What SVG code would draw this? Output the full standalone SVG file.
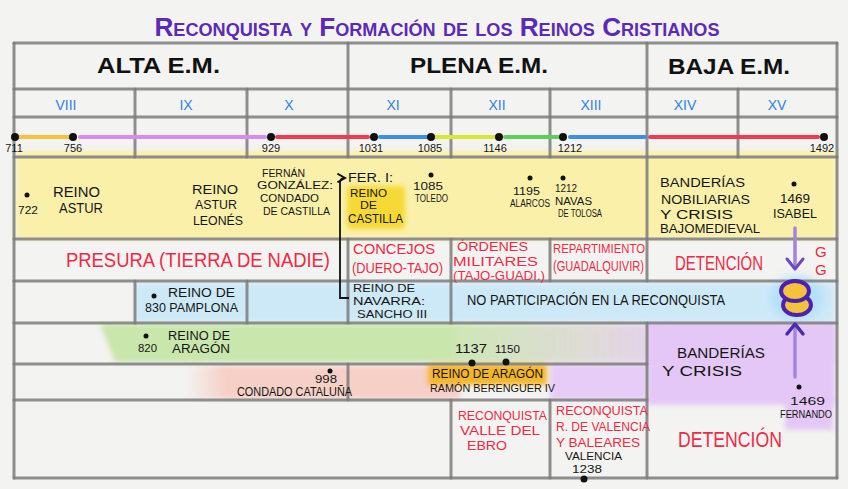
<svg xmlns="http://www.w3.org/2000/svg" width="848" height="489" viewBox="0 0 848 489">
<defs>
<filter id="soft" x="-10%" y="-40%" width="120%" height="180%"><feGaussianBlur stdDeviation="2.5"/></filter>
<filter id="soft2" x="-30%" y="-30%" width="160%" height="160%"><feGaussianBlur stdDeviation="5"/></filter>
<linearGradient id="gpur" x1="0" x2="1" y1="0" y2="0">
<stop offset="0" stop-color="#c9e6ad" stop-opacity="0.9"/>
<stop offset="0.35" stop-color="#d9d6d0" stop-opacity="0.8"/>
<stop offset="0.6" stop-color="#e6cbf6" stop-opacity="0.9"/>
<stop offset="1" stop-color="#e6cbf6" stop-opacity="0.9"/>
</linearGradient>
<linearGradient id="gpink" x1="0" x2="1" y1="0" y2="0">
<stop offset="0" stop-color="#f7c9bf" stop-opacity="0"/>
<stop offset="0.15" stop-color="#f7c9bf" stop-opacity="0.85"/>
<stop offset="1" stop-color="#f7c9bf" stop-opacity="0.85"/>
</linearGradient>
<marker id="ah" viewBox="0 0 10 10" refX="8" refY="5" markerWidth="6" markerHeight="6" orient="auto">
<path d="M1,1 L8,5 L1,9" fill="none" stroke="#111" stroke-width="1.8"/>
</marker>
</defs>
<style>
text { font-family: "Liberation Sans", Arial, sans-serif; }
.k { fill:#161616; }
.r { fill:#ee2b47; }
.b { fill:#2f82e3; }
.t { fill:#5b2bb8; font-weight:bold; font-variant:small-caps; }
.h { fill:#111; font-weight:bold; }
.grid line { stroke:#7d7d7d; stroke-width:3; stroke-linecap:round; opacity:0.85; }
.tl line { stroke-width:4; stroke-linecap:round; }
.dot { fill:#111; }
</style>
<rect width="848" height="489" fill="#f3f3f1"/>

<g id="bands">
<rect x="16" y="151" width="820" height="88" fill="#fbf0a3" opacity="0.9" filter="url(#soft)"/>
<rect x="135" y="283" width="700" height="39" fill="#cde9f8" filter="url(#soft)"/>
<ellipse cx="797" cy="298" rx="26" ry="22" fill="#b3e0f7" filter="url(#soft2)"/>
<polygon points="100,324 455,324 455,362 115,362" fill="#c9e6ad" filter="url(#soft)"/>
<rect x="450" y="324" width="385" height="39" fill="url(#gpur)" filter="url(#soft)"/>
<rect x="550" y="364" width="97" height="36" fill="#e6ccf6" filter="url(#soft)"/>
<rect x="647" y="323" width="188" height="82" fill="#e4c7f6" filter="url(#soft)"/>
<rect x="785" y="395" width="48" height="35" fill="#e4c7f6" filter="url(#soft)"/>
<rect x="185" y="366" width="275" height="33" fill="url(#gpink)" filter="url(#soft)"/>
<rect x="347" y="186" width="58" height="43" rx="4" fill="#f7d935" filter="url(#soft)"/>
<rect x="428" y="364" width="119" height="21" rx="3" fill="#f5b52c" filter="url(#soft)"/>
</g>

<g class="grid" id="grid">
<line x1="14" y1="43" x2="837" y2="43"/>
<line x1="14" y1="89" x2="837" y2="89"/>
<line x1="14" y1="117" x2="837" y2="117"/>
<line x1="14" y1="157" x2="837" y2="157"/>
<line x1="14" y1="239" x2="837" y2="239"/>
<line x1="14" y1="281" x2="837" y2="281"/>
<line x1="14" y1="323" x2="837" y2="323"/>
<line x1="14" y1="364" x2="647" y2="364"/>
<line x1="14" y1="400" x2="647" y2="400"/>
<line x1="14" y1="478" x2="837" y2="478"/>
<line x1="14" y1="43" x2="14" y2="478"/>
<line x1="837" y1="43" x2="837" y2="478"/>
<line x1="348" y1="43" x2="348" y2="157"/>
<line x1="348" y1="239" x2="348" y2="323"/>
<line x1="348" y1="364" x2="348" y2="400"/>
<line x1="647" y1="43" x2="647" y2="281"/>
<line x1="647" y1="323" x2="647" y2="478"/>
<line x1="135" y1="89" x2="135" y2="157"/>
<line x1="135" y1="281" x2="135" y2="323"/>
<line x1="247" y1="89" x2="247" y2="157"/>
<line x1="247" y1="281" x2="247" y2="323"/>
<line x1="451" y1="89" x2="451" y2="157"/>
<line x1="451" y1="239" x2="451" y2="323"/>
<line x1="451" y1="400" x2="451" y2="478"/>
<line x1="550" y1="89" x2="550" y2="157"/>
<line x1="550" y1="239" x2="550" y2="281"/>
<line x1="550" y1="400" x2="550" y2="478"/>
<line x1="738" y1="89" x2="738" y2="157"/>
</g>

<text class="t" x="437" y="36" font-size="26" text-anchor="middle" textLength="565" lengthAdjust="spacingAndGlyphs">Reconquista y Formación de los Reinos Cristianos</text>

<g id="eras">
<text class="h" x="97" y="73" font-size="22" textLength="123" lengthAdjust="spacingAndGlyphs">ALTA E.M.</text>
<text class="h" x="410" y="73" font-size="22" textLength="138" lengthAdjust="spacingAndGlyphs">PLENA E.M.</text>
<text class="h" x="668" y="74" font-size="22" textLength="122" lengthAdjust="spacingAndGlyphs">BAJA E.M.</text>
</g>

<g id="centuries" font-size="14" text-anchor="middle">
<text class="b" x="66" y="110">VIII</text>
<text class="b" x="186" y="110">IX</text>
<text class="b" x="289" y="110">X</text>
<text class="b" x="393" y="110">XI</text>
<text class="b" x="497" y="110">XII</text>
<text class="b" x="591" y="110">XIII</text>
<text class="b" x="685" y="110">XIV</text>
<text class="b" x="777" y="110">XV</text>
</g>

<g id="timeline">
<g class="tl">
<line x1="20" y1="137" x2="70" y2="137" stroke="#f5c13e"/>
<line x1="80" y1="137" x2="265" y2="137" stroke="#d68af2"/>
<line x1="277" y1="137" x2="368" y2="137" stroke="#f03a4e"/>
<line x1="380" y1="137" x2="427" y2="137" stroke="#3a8ee6"/>
<line x1="436" y1="137" x2="495" y2="137" stroke="#d8e636"/>
<line x1="505" y1="137" x2="558" y2="137" stroke="#5fcf5a"/>
<line x1="570" y1="137" x2="645" y2="137" stroke="#3a8ee6"/>
<line x1="650" y1="137" x2="818" y2="137" stroke="#f03a4e"/>
</g>
<circle class="dot" cx="15" cy="137" r="4"/>
<circle class="dot" cx="73" cy="137" r="4"/>
<circle class="dot" cx="271" cy="137" r="4"/>
<circle class="dot" cx="374" cy="137" r="4"/>
<circle class="dot" cx="431" cy="137" r="4"/>
<circle class="dot" cx="499" cy="137" r="4"/>
<circle class="dot" cx="563" cy="137" r="4"/>
<circle class="dot" cx="824" cy="137" r="4"/>
<g font-size="11" text-anchor="middle">
<text class="k" x="14" y="152">711</text>
<text class="k" x="73" y="152">756</text>
<text class="k" x="271" y="152">929</text>
<text class="k" x="371" y="152">1031</text>
<text class="k" x="430" y="152">1085</text>
<text class="k" x="495" y="152">1146</text>
<text class="k" x="570" y="152">1212</text>
<text class="k" x="822" y="152">1492</text>
</g>
</g>

<g id="reino-astur">
<circle class="dot" cx="27" cy="195" r="2.5"/>
<text class="k" x="18" y="214" font-size="11" textLength="20" lengthAdjust="spacingAndGlyphs">722</text>
<text class="k" x="53" y="197" font-size="14" textLength="47" lengthAdjust="spacingAndGlyphs">REINO</text>
<text class="k" x="59" y="213" font-size="14" textLength="44" lengthAdjust="spacingAndGlyphs">ASTUR</text>
</g>
<g id="reino-astur-leones" font-size="13">
<text class="k" x="192" y="194" textLength="46" lengthAdjust="spacingAndGlyphs">REINO</text>
<text class="k" x="195" y="209" textLength="42" lengthAdjust="spacingAndGlyphs">ASTUR</text>
<text class="k" x="193" y="225" textLength="50" lengthAdjust="spacingAndGlyphs">LEONÉS</text>
</g>
<g id="fernan-gonzalez" font-size="11">
<text class="k" x="262" y="177" textLength="43" lengthAdjust="spacingAndGlyphs">FERNÁN</text>
<text class="k" x="257" y="189" textLength="76" lengthAdjust="spacingAndGlyphs">GONZÁLEZ:</text>
<text class="k" x="260" y="202" textLength="59" lengthAdjust="spacingAndGlyphs">CONDADO</text>
<text class="k" x="263" y="215" textLength="67" lengthAdjust="spacingAndGlyphs">DE CASTILLA</text>
</g>
<g id="reino-castilla">
<text class="k" x="348" y="182" font-size="12" textLength="45" lengthAdjust="spacingAndGlyphs">FER. I:</text>
<text class="k" x="350" y="197" font-size="11" textLength="37" lengthAdjust="spacingAndGlyphs">REINO</text>
<text class="k" x="360" y="209" font-size="10" textLength="17" lengthAdjust="spacingAndGlyphs">DE</text>
<text class="k" x="348" y="223" font-size="12" textLength="55" lengthAdjust="spacingAndGlyphs">CASTILLA</text>
</g>
<g id="toledo">
<circle class="dot" cx="431" cy="175" r="2.5"/>
<text class="k" x="413" y="190" font-size="11" textLength="30" lengthAdjust="spacingAndGlyphs">1085</text>
<text class="k" x="415" y="202" font-size="10" textLength="33" lengthAdjust="spacingAndGlyphs">TOLEDO</text>
</g>
<g id="alarcos">
<circle class="dot" cx="530" cy="178" r="2.5"/>
<text class="k" x="513" y="195" font-size="11" textLength="27" lengthAdjust="spacingAndGlyphs">1195</text>
<text class="k" x="510" y="207" font-size="10" textLength="40" lengthAdjust="spacingAndGlyphs">ALARCOS</text>
</g>
<g id="navas" font-size="10">
<circle class="dot" cx="563" cy="178" r="2.5"/>
<text class="k" x="555" y="192" textLength="22" lengthAdjust="spacingAndGlyphs">1212</text>
<text class="k" x="555" y="205" textLength="37" lengthAdjust="spacingAndGlyphs">NAVAS</text>
<text class="k" x="558" y="217" textLength="44" lengthAdjust="spacingAndGlyphs">DE TOLOSA</text>
</g>
<g id="banderias-nobiliarias" font-size="12.5">
<text class="k" x="660" y="187" textLength="85" lengthAdjust="spacingAndGlyphs">BANDERÍAS</text>
<text class="k" x="661" y="204" textLength="89" lengthAdjust="spacingAndGlyphs">NOBILIARIAS</text>
<text class="k" x="660" y="219" textLength="73" lengthAdjust="spacingAndGlyphs">Y CRISIS</text>
<text class="k" x="660" y="233" textLength="100" lengthAdjust="spacingAndGlyphs">BAJOMEDIEVAL</text>
</g>
<g id="isabel">
<circle class="dot" cx="794" cy="184" r="2.5"/>
<text class="k" x="780" y="203" font-size="12" textLength="30" lengthAdjust="spacingAndGlyphs">1469</text>
<text class="k" x="773" y="218" font-size="12" textLength="44" lengthAdjust="spacingAndGlyphs">ISABEL</text>
</g>

<g id="presura">
<text class="r" x="66" y="267" font-size="19.5" textLength="264" lengthAdjust="spacingAndGlyphs">PRESURA (TIERRA DE NADIE)</text>
</g>
<g id="concejos">
<text class="r" x="353" y="254" font-size="15" textLength="82" lengthAdjust="spacingAndGlyphs">CONCEJOS</text>
<text class="r" x="352" y="273" font-size="14" textLength="91" lengthAdjust="spacingAndGlyphs">(DUERO-TAJO)</text>
</g>
<g id="ordenes" font-size="13">
<text class="r" x="457" y="251" textLength="71" lengthAdjust="spacingAndGlyphs">ÓRDENES</text>
<text class="r" x="453" y="266" textLength="85" lengthAdjust="spacingAndGlyphs">MILITARES</text>
<text class="r" x="453" y="280" textLength="92" lengthAdjust="spacingAndGlyphs">(TAJO-GUADI.)</text>
</g>
<g id="repartimiento">
<text class="r" x="553" y="253" font-size="13" textLength="92" lengthAdjust="spacingAndGlyphs">REPARTIMIENTO</text>
<text class="r" x="553" y="271" font-size="14" textLength="91" lengthAdjust="spacingAndGlyphs">(GUADALQUIVIR)</text>
</g>
<g id="detencion-1">
<text class="r" x="675" y="270" font-size="20" textLength="88" lengthAdjust="spacingAndGlyphs">DETENCIÓN</text>
</g>
<g id="gg">
<text class="r" x="815" y="257" font-size="15">G</text>
<text class="r" x="815" y="275" font-size="15">G</text>
</g>

<g id="pamplona">
<circle class="dot" cx="154" cy="296" r="2.5"/>
<text class="k" x="168" y="297" font-size="12" textLength="67" lengthAdjust="spacingAndGlyphs">REINO DE</text>
<text class="k" x="145" y="312" font-size="12" textLength="93" lengthAdjust="spacingAndGlyphs">830 PAMPLONA</text>
</g>
<g id="navarra" font-size="11">
<text class="k" x="353" y="292" textLength="62" lengthAdjust="spacingAndGlyphs">REINO DE</text>
<text class="k" x="353" y="305" textLength="72" lengthAdjust="spacingAndGlyphs">NAVARRA:</text>
<text class="k" x="357" y="318" textLength="70" lengthAdjust="spacingAndGlyphs">SANCHO III</text>
</g>
<g id="no-participacion">
<text class="k" x="467" y="305" font-size="15" textLength="258" lengthAdjust="spacingAndGlyphs">NO PARTICIPACIÓN EN LA RECONQUISTA</text>
</g>
<g id="union">
<ellipse cx="797" cy="305" rx="14" ry="10" fill="#f5c33b" stroke="#4b22b0" stroke-width="4"/>
<ellipse cx="795" cy="291" rx="14" ry="10" fill="#f5c33b" stroke="#4b22b0" stroke-width="4"/>
</g>

<g id="aragon">
<circle class="dot" cx="146" cy="336" r="2.5"/>
<text class="k" x="138" y="352" font-size="10" textLength="19" lengthAdjust="spacingAndGlyphs">820</text>
<text class="k" x="168" y="340" font-size="12" textLength="62" lengthAdjust="spacingAndGlyphs">REINO DE</text>
<text class="k" x="172" y="353" font-size="12" textLength="58" lengthAdjust="spacingAndGlyphs">ARAGÓN</text>
</g>
<g id="cataluna">
<circle class="dot" cx="330" cy="371" r="2.5"/>
<text class="k" x="315" y="383" font-size="11" textLength="22" lengthAdjust="spacingAndGlyphs">998</text>
<text class="k" x="237" y="396" font-size="12" textLength="115" lengthAdjust="spacingAndGlyphs">CONDADO CATALUÑA</text>
</g>
<g id="corona-aragon">
<text class="k" x="455" y="353" font-size="13" textLength="32" lengthAdjust="spacingAndGlyphs">1137</text>
<text class="k" x="495" y="353" font-size="11" textLength="25" lengthAdjust="spacingAndGlyphs">1150</text>
<circle class="dot" cx="472" cy="363" r="3.5"/>
<circle class="dot" cx="506" cy="362" r="3.5"/>
<text class="k" x="432" y="378" font-size="12" textLength="111" lengthAdjust="spacingAndGlyphs">REINO DE ARAGÓN</text>
<text class="k" x="430" y="392" font-size="11" textLength="125" lengthAdjust="spacingAndGlyphs">RAMÓN BERENGUER IV</text>
</g>
<g id="banderias-crisis">
<text class="k" x="677" y="358" font-size="15" textLength="88" lengthAdjust="spacingAndGlyphs">BANDERÍAS</text>
<text class="k" x="662" y="376" font-size="15" textLength="80" lengthAdjust="spacingAndGlyphs">Y CRISIS</text>
</g>
<g id="fernando">
<circle class="dot" cx="799" cy="387" r="2.5"/>
<text class="k" x="790" y="405" font-size="11" textLength="35" lengthAdjust="spacingAndGlyphs">1469</text>
<text class="k" x="780" y="418" font-size="10" textLength="52" lengthAdjust="spacingAndGlyphs">FERNANDO</text>
</g>

<g id="valle-ebro" font-size="13">
<text class="r" x="458" y="420" textLength="89" lengthAdjust="spacingAndGlyphs">RECONQUISTA</text>
<text class="r" x="460" y="435" textLength="80" lengthAdjust="spacingAndGlyphs">VALLE DEL</text>
<text class="r" x="467" y="450" textLength="40" lengthAdjust="spacingAndGlyphs">EBRO</text>
</g>
<g id="valencia-baleares">
<text class="r" x="556" y="415" font-size="13" textLength="92" lengthAdjust="spacingAndGlyphs">RECONQUISTA</text>
<text class="r" x="556" y="431" font-size="13" textLength="94" lengthAdjust="spacingAndGlyphs">R. DE VALENCIA</text>
<text class="r" x="556" y="447" font-size="13" textLength="84" lengthAdjust="spacingAndGlyphs">Y BALEARES</text>
<text class="k" x="565" y="460" font-size="10" textLength="57" lengthAdjust="spacingAndGlyphs">VALENCIA</text>
<text class="k" x="572" y="473" font-size="11" textLength="30" lengthAdjust="spacingAndGlyphs">1238</text>
<circle class="dot" cx="584" cy="479" r="3.5"/>
</g>
<g id="detencion-2">
<text class="r" x="678" y="447" font-size="22" textLength="104" lengthAdjust="spacingAndGlyphs">DETENCIÓN</text>
</g>

<g id="connectors" fill="none">
<path d="M349,298 H340 V183 Q340,178 345,178" stroke="#111" stroke-width="1.8" marker-end="url(#ah)"/>
<line x1="795" y1="228" x2="795" y2="267" stroke="#a285dc" stroke-width="3.5" stroke-linecap="round"/>
<polyline points="787,259 795,269 803,259" stroke="#6c47c6" stroke-width="3" stroke-linecap="round" stroke-linejoin="round"/>
<line x1="795" y1="377" x2="795" y2="327" stroke="#a285dc" stroke-width="3.5" stroke-linecap="round"/>
<polyline points="787,334 795,324 803,334" stroke="#4a2ab0" stroke-width="3.5" stroke-linecap="round" stroke-linejoin="round"/>
</g>
</svg>
